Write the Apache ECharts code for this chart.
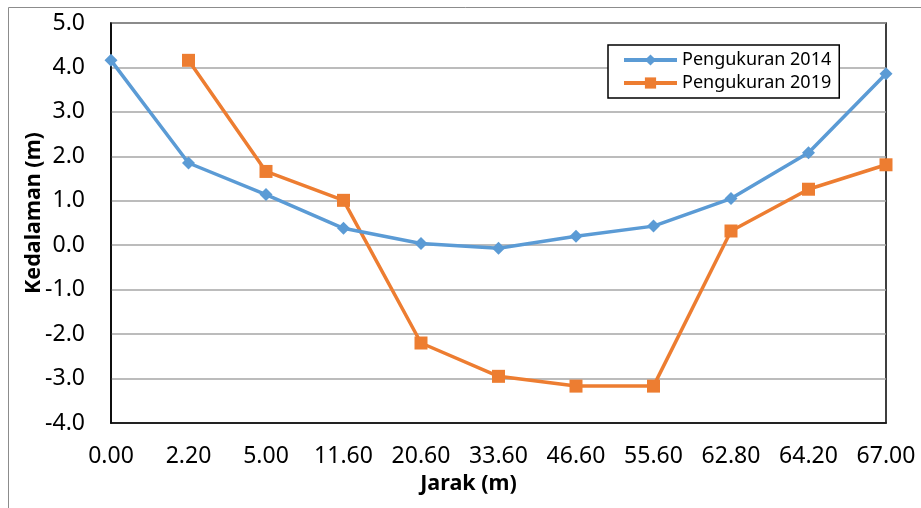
<!DOCTYPE html>
<html>
<head>
<meta charset="utf-8">
<script src="https://cdn.jsdelivr.net/npm/echarts@6/dist/echarts.min.js"></script>
<style>
  html, body { margin: 0; padding: 0; background: #fff; }
  #chart { width: 921px; height: 508px; }
</style>
</head>
<body>
<div id="chart"></div>
<script>
// Distance stations along the cross-section (m)
const jarak = ['0.00', '2.20', '5.00', '11.60', '20.60', '33.60', '46.60', '55.60', '62.80', '64.20', '67.00'];
// Bed depth measured in 2014 (m)
const pengukuran2014 = [4.16, 1.85, 1.14, 0.38, 0.04, -0.07, 0.20, 0.43, 1.05, 2.08, 3.86];
// Bed depth measured in 2019 (m); no reading at the first station
const pengukuran2019 = [null, 4.16, 1.66, 1.01, -2.20, -2.95, -3.17, -3.17, 0.32, 1.26, 1.81];
// Depth axis range
const yMin = -4, yMax = 5, yStep = 1;

const FONT = '"Noto Sans", "Open Sans", sans-serif';
const chart = echarts.init(document.getElementById('chart'), null, { renderer: 'canvas' });

chart.setOption({
  animation: false,
  backgroundColor: '#ffffff',
  graphic: [{
    type: 'rect',
    left: 6, top: 5,
    shape: { width: 940, height: 540 },
    style: { fill: 'none', stroke: '#8c8c8c', lineWidth: 1 },
    silent: true
  }],
  grid: {
    left: 111, right: 35, top: 23, bottom: 85,
    show: true, borderColor: '#000', borderWidth: 1.5, backgroundColor: 'transparent'
  },
  legend: {
    orient: 'vertical',
    left: 608, top: 45,
    padding: [4, 8, 4, 14],
    itemGap: 1,
    itemWidth: 53, itemHeight: 14,
    backgroundColor: '#fff',
    borderColor: '#000', borderWidth: 1.5, borderRadius: 0,
    lineStyle: { width: 4 },
    textStyle: { fontFamily: FONT, fontSize: 18, color: '#000', lineHeight: 22 },
    data: ['Pengukuran 2014', 'Pengukuran 2019']
  },
  xAxis: {
    type: 'category',
    data: jarak,
    boundaryGap: false,
    axisLine: { show: true, onZero: false, lineStyle: { color: '#000', width: 1.5 } },
    axisTick: { show: false },
    axisLabel: { fontFamily: FONT, fontSize: 23, color: '#000', margin: 22, interval: 0 },
    splitLine: { show: false },
    name: 'Jarak (m)',
    nameLocation: 'middle',
    nameGap: 47,
    nameTextStyle: { fontFamily: FONT, fontSize: 21.5, fontWeight: 'bold', color: '#000', padding: [0, 60, 0, 0] }
  },
  yAxis: {
    type: 'value',
    min: yMin, max: yMax, interval: yStep,
    axisLine: { show: true, lineStyle: { color: '#000', width: 1.5 } },
    axisTick: { show: false },
    axisLabel: {
      fontFamily: FONT, fontSize: 23, color: '#000', margin: 26,
      formatter: v => v.toFixed(1)
    },
    splitLine: { show: true, lineStyle: { color: '#a6a6a6', width: 1.5 } },
    name: 'Kedalaman (m)',
    nameLocation: 'middle',
    nameGap: 66,
    nameMoveOverlap: false,
    nameTextStyle: { fontFamily: FONT, fontSize: 21.5, fontWeight: 'bold', color: '#000', padding: [0, 0, 0, 20] }
  },
  series: [
    {
      name: 'Pengukuran 2014',
      type: 'line',
      data: pengukuran2014,
      symbol: 'diamond',
      symbolSize: 13,
      lineStyle: { color: '#5b9bd5', width: 3.5 },
      itemStyle: { color: '#5b9bd5' },
      z: 3
    },
    {
      name: 'Pengukuran 2019',
      type: 'line',
      data: pengukuran2019,
      symbol: 'rect',
      symbolSize: 13,
      lineStyle: { color: '#ed7d31', width: 3.5 },
      itemStyle: { color: '#ed7d31' },
      z: 2
    }
  ]
});
</script>
</body>
</html>
